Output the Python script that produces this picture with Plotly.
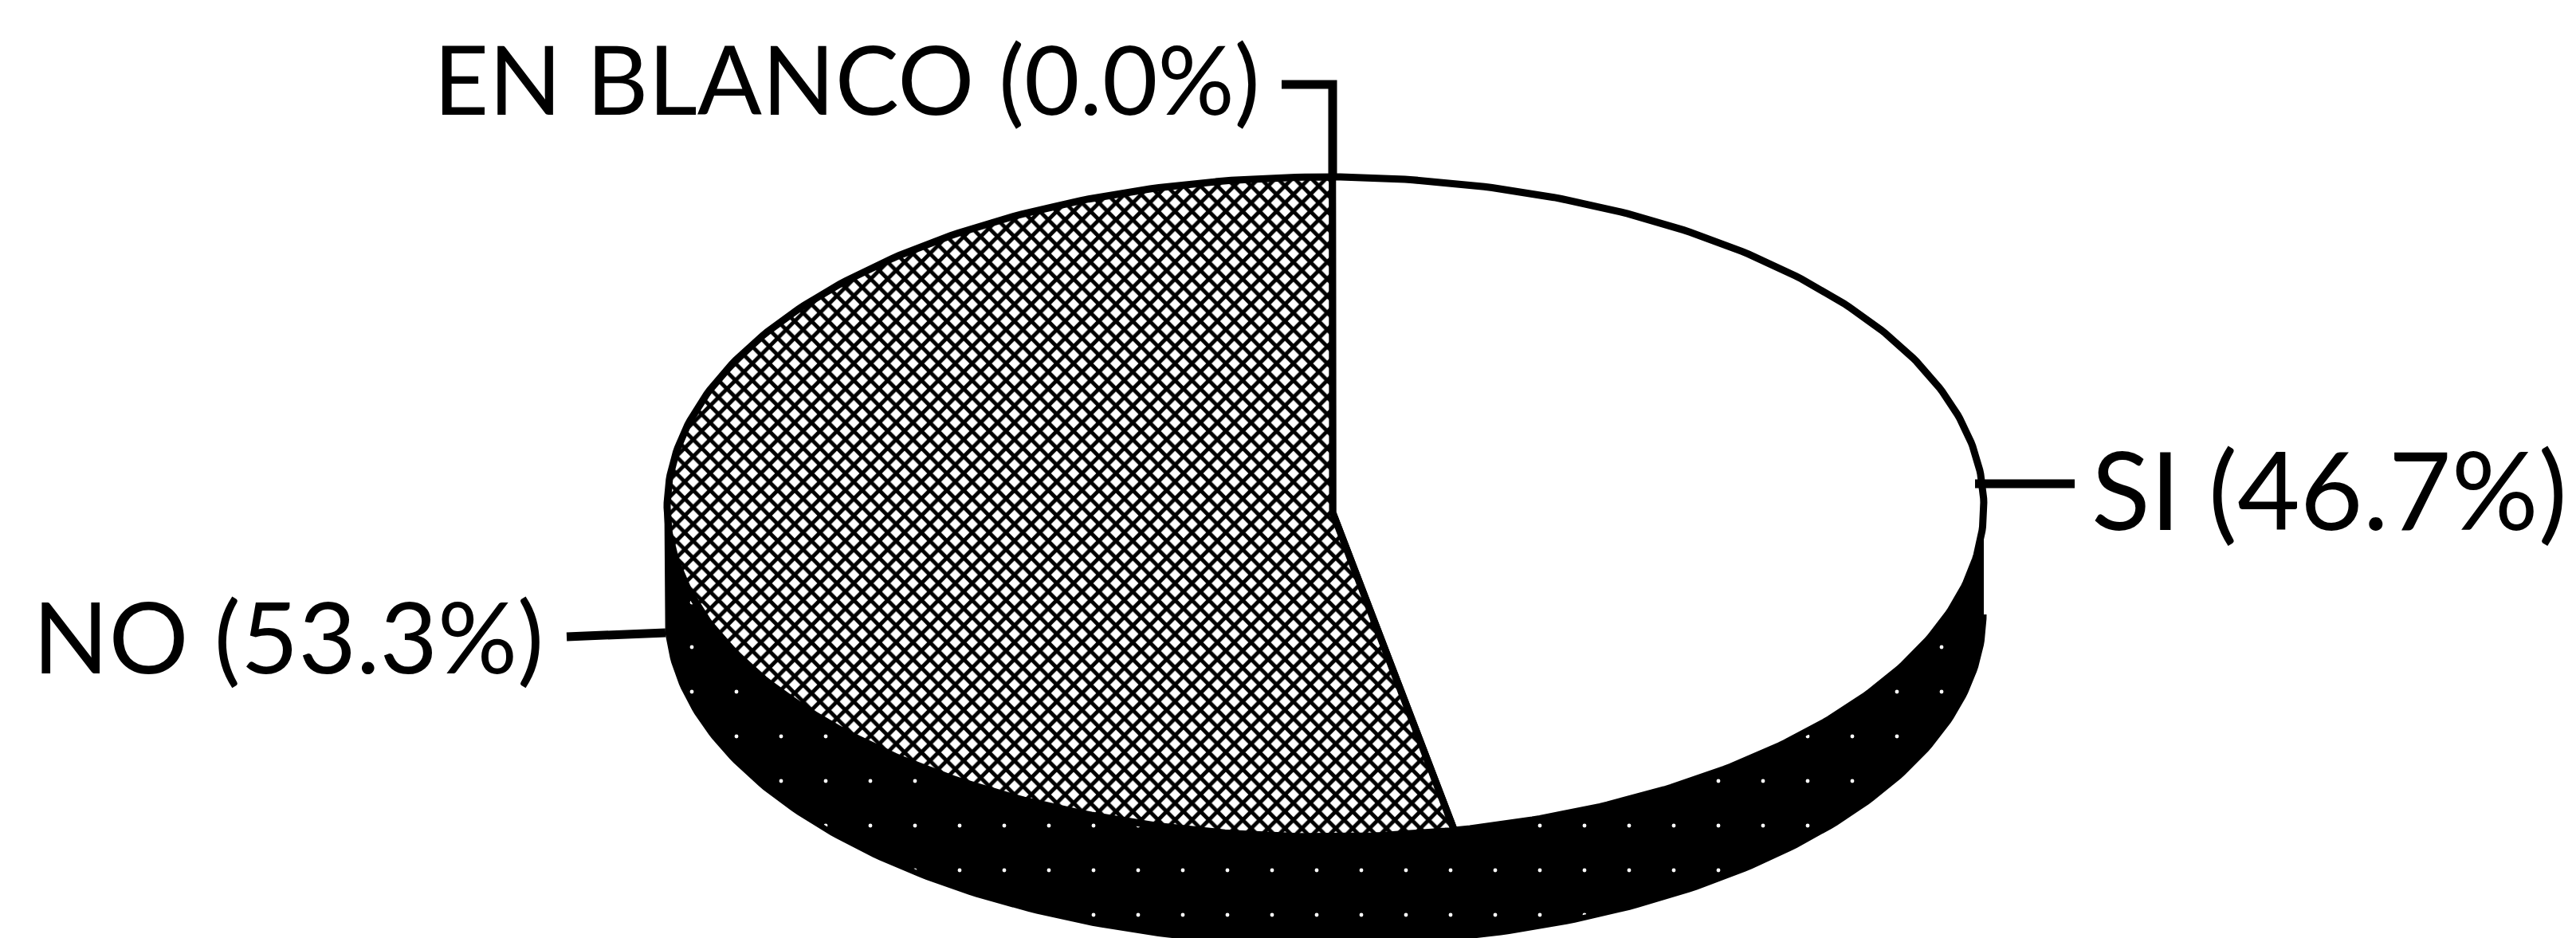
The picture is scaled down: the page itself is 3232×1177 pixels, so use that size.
import numpy as np
import plotly.graph_objects as go

# Values, clockwise from the top
labels = ["SI", "NO", "EN BLANCO"]
shares = [46.7, 53.3, 0.0]
annotation_text = ["SI (46.7%)", "NO (53.3%)", "EN BLANCO (0.0%)"]

WIDTH, HEIGHT = 3232, 1177
CX, CY = 1663, 636   # pie centre on the page
RX, RY = 826, 414    # tilted pie radii
DEPTH = 135          # height of the side wall
FONT = "Lato, Roboto, Liberation Sans, sans-serif"


def to_x(px):
    return (px - CX) / RX


def to_y(py):
    return (CY - py) / RY


def rim(start, stop):
    # points on the unit circle, angles in degrees clockwise from the top
    t = np.radians(np.linspace(start, stop, 240))
    return np.sin(t), np.cos(t)


fig = go.Figure()

# Side wall, only the front half of the rim shows
wx, wy = rim(90, 270)
fig.add_trace(go.Scatter(
    x=np.concatenate([wx, wx[::-1]]),
    y=np.concatenate([wy, wy[::-1] - DEPTH / RY]),
    mode="lines",
    fill="toself",
    fillcolor="black",
    fillpattern=dict(shape=".", size=56, solidity=0.006, fgcolor="white", bgcolor="black", fgopacity=1),
    line=dict(color="black", width=7),
    hoverinfo="skip",
    showlegend=False,
))

# Top face, one wedge per share
apex_x, apex_y = to_x(1672), to_y(643)
start = 0.6
for name, share in zip(labels, shares):
    if share == 0:
        continue
    stop = start + share * 3.6
    sx, sy = rim(start, stop)
    wedge = dict(
        x=np.concatenate([[apex_x], sx, [apex_x]]),
        y=np.concatenate([[apex_y], sy, [apex_y]]),
        mode="lines",
        fill="toself",
        name=name,
        line=dict(color="black", width=9),
        showlegend=False,
    )
    if name == "NO":
        wedge["fillpattern"] = dict(shape="x", size=15, solidity=0.55, fgcolor="black", bgcolor="white", fgopacity=1)
    else:
        wedge["fillcolor"] = "white"
    fig.add_trace(go.Scatter(**wedge))
    start = stop

# Leader lines
leaders = [
    ([1608, 1672, 1672], [106, 106, 225]),
    ([711, 835], [799, 794]),
    ([2478, 2603], [607, 607]),
]
for lx, ly in leaders:
    fig.add_trace(go.Scatter(
        x=[to_x(v) for v in lx],
        y=[to_y(v) for v in ly],
        mode="lines",
        line=dict(color="black", width=11),
        hoverinfo="skip",
        showlegend=False,
    ))

# Labels: left edge and vertical middle of the capitals, sizes fit the scanned widths
label_pos = [(2622, 612), (39, 797), (542, 98)]
label_size = [136, 125, 120]
for text, (px, py), size in zip(annotation_text, label_pos, label_size):
    fig.add_annotation(
        x=to_x(px), y=to_y(py), text=text,
        xanchor="left", yanchor="middle", showarrow=False,
        font=dict(family=FONT, size=size, color="black"),
    )

fig.update_layout(
    width=WIDTH, height=HEIGHT,
    margin=dict(l=0, r=0, t=0, b=0),
    paper_bgcolor="white",
    plot_bgcolor="white",
    xaxis=dict(range=[to_x(0), to_x(WIDTH)], visible=False),
    yaxis=dict(range=[to_y(HEIGHT), to_y(0)], visible=False),
)

fig.write_html(
    "out.html",
    config={"displayModeBar": False},
    post_script="document.body.style.margin='0';",
)
